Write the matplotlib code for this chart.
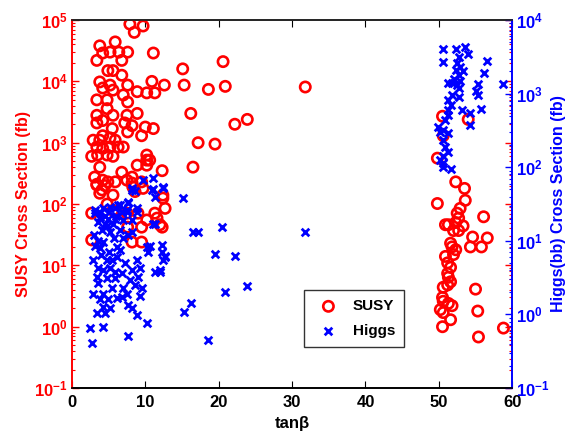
import matplotlib
matplotlib.use("Agg")
import matplotlib.pyplot as plt
from matplotlib.ticker import LogLocator, LogFormatterSciNotation, NullFormatter

# ---------------- data ----------------
susy_tanb = [7.9, 8.5, 9.7, 3.8, 5.9, 7.6, 3.4, 4.2, 5.2, 6.4, 6.8, 4.9, 5.6, 6.8, 11.1,
             3.8, 4.2, 5.2, 5.6, 7.6, 7.0, 8.9, 10.2, 10.9, 11.3, 12.6, 3.4, 4.8, 4.8, 7.6,
             5.6, 3.4, 3.4, 4.2, 7.5, 8.9, 7.2, 8.2, 7.6, 10.0, 11.1, 9.5, 5.5, 4.2, 2.9,
             3.8, 5.2, 5.9, 3.4, 4.2, 5.2, 6.3, 7.0, 2.7, 3.5, 4.8, 5.6, 10.2, 10.2, 10.2,
             3.8, 6.8, 8.9, 8.2, 3.1, 4.2, 4.9, 3.4, 4.1, 5.6, 7.5, 8.3, 12.4, 16.5, 20.6,
             15.1, 15.3, 18.6, 20.9, 31.8, 16.2, 22.2, 23.9, 17.2, 19.5, 12.3, 12.4, 12.7,
             11.3, 11.6, 12.3, 10.6, 3.4, 4.5, 5.9, 8.2, 9.5, 3.8, 8.6, 9.7, 12.0, 2.7, 4.8,
             5.6, 7.5, 9.0, 7.6, 9.5, 2.7, 8.2, 9.5, 10.2,
             49.8, 52.3, 53.5, 53.6, 52.9, 52.5, 52.7, 50.9, 51.3, 52.3, 53.3, 52.7, 52.0,
             56.1, 54.6, 54.3, 55.8, 56.6, 51.6, 51.8, 52.3, 52.0, 50.9, 51.2, 51.6, 51.2,
             51.3, 51.6, 50.6, 51.2, 55.0, 50.5, 51.3, 51.8, 50.2, 50.6, 55.3, 51.6, 50.5,
             58.8, 55.4, 50.6, 50.5, 54.0, 50.6, 49.8]
susy_xsec = [8.6e4, 6.3e4, 8.0e4, 3.8e4, 4.4e4, 3.0e4, 2.2e4, 2.9e4, 3.0e4, 3.0e4, 2.2e4,
             1.5e4, 1.5e4, 1.26e4, 2.9e4, 9.8e3, 7.8e3, 8.7e3, 7.2e3, 8.7e3, 6.0e3, 6.8e3,
             6.5e3, 1.0e4, 6.5e3, 8.7e3, 5.0e3, 5.0e3, 3.6e3, 4.6e3, 2.8e3, 2.8e3, 2.1e3,
             2.3e3, 2.8e3, 3.0e3, 2.1e3, 1.9e3, 1.5e3, 1.8e3, 1.7e3, 1.3e3, 1.7e3, 1.3e3,
             1.1e3, 1.1e3, 1.2e3, 1.1e3, 850, 810, 850, 850, 850, 600, 630, 630, 600, 630,
             520, 430, 400, 330, 430, 275, 275, 245, 230, 205, 170, 140, 245, 190, 140, 400,
             2.1e4, 1.6e4, 8.7e3, 7.4e3, 8.3e3, 8.1e3, 3.0e3, 2.0e3, 2.4e3, 1.0e3, 950, 350,
             125, 85, 71, 59, 42, 520, 210, 200, 230, 220, 230, 150, 160, 180, 46, 71, 100,
             79, 71, 71, 42, 42, 26, 24, 24, 55,
             102, 230, 180, 115, 85, 71, 59, 46, 46, 50, 44, 37, 37, 62, 29, 20, 20, 28, 23,
             20, 18, 15, 14, 11, 9.3, 7.4, 6.4, 5.4, 4.4, 4.8, 4.1, 3.0, 2.4, 2.2, 1.9, 1.7,
             1.8, 1.3, 1.0, 0.95, 0.68, 2.6, 2.7e3, 2.4e3, 1.3e3, 560]

higgs_tanb = [50.5, 52.3, 53.6, 50.6, 54.0, 56.6, 52.7, 52.5, 52.9, 52.3, 53.3, 52.7, 56.1,
              52.0, 52.9, 51.3, 51.8, 52.5, 55.3, 58.8, 52.7, 55.0, 51.8, 55.3, 51.3, 52.7,
              51.6, 51.3, 53.2, 55.8, 54.3, 51.2, 50.9, 54.3, 49.9, 50.6, 51.2, 50.2, 50.6,
              50.9, 51.2, 50.6, 50.5, 50.6, 51.6, 50.2,
              9.7, 11.1, 8.2, 10.9, 12.4, 11.3, 15.1, 12.4, 11.1, 11.1, 16.5, 17.2, 20.5,
              31.8, 10.6, 12.3, 12.7, 12.4, 19.5, 22.2, 11.3, 12.0, 20.9, 23.9, 16.2, 15.3,
              18.6,
              4.2, 5.2, 6.3, 6.8, 7.6, 8.9, 7.5, 3.8, 4.9, 5.9, 8.2, 3.1, 4.8, 5.6, 6.5, 4.1,
              5.2, 7.0, 7.6, 8.2, 4.2, 6.1, 10.2, 10.4, 12.3, 12.7, 2.9, 4.8, 8.9, 3.5, 4.2,
              5.2, 5.9, 6.8, 8.2, 9.3, 12.0, 3.4, 4.8, 5.9, 7.9, 9.0, 3.5, 5.5, 7.0, 8.6,
              9.5, 2.9, 4.2, 7.5, 9.3, 3.8, 4.9, 6.1, 6.8, 7.6, 4.2, 5.2, 3.4, 4.5, 8.2,
              8.9, 10.2, 2.5, 4.2, 7.6, 2.7, 5.5, 6.5, 3.8, 8.2, 8.6, 3.1, 3.8, 4.5, 5.9,
              6.5, 7.6, 8.9, 7.5, 11.3, 3.5, 4.5, 5.0, 6.0, 7.0, 3.0, 3.6, 5.8, 4.0, 5.0,
              6.2, 7.2, 3.2]
higgs_xsec = [4.1e3, 4.1e3, 4.3e3, 2.7e3, 3.5e3, 2.8e3, 3.1e3, 2.6e3, 2.3e3, 2.1e3, 2.0e3,
              1.8e3, 1.9e3, 1.6e3, 1.5e3, 1.4e3, 1.4e3, 1.3e3, 1.35e3, 1.35e3, 1.2e3, 1.1e3,
              960, 960, 820, 890, 700, 600, 600, 620, 550, 510, 440, 370, 350, 320, 290, 300,
              235, 190, 160, 140, 115, 100, 95, 125,
              68, 71, 49, 49, 54, 40, 38, 52, 50, 17, 13, 13, 15.5, 13, 8.4, 8.8, 6.2, 5.5,
              6.6, 6.2, 3.8, 3.8, 2.0, 2.4, 1.45, 1.07, 0.45,
              28, 29, 31, 25, 33, 25, 26, 21, 20, 20, 19, 24, 16, 17, 14, 14, 13, 11, 12, 13,
              9.5, 8.3, 8.3, 7.1, 7.1, 6.1, 5.5, 5.5, 5.5, 4.3, 4.0, 4.3, 3.8, 3.7, 4.0, 4.3,
              4.0, 3.2, 3.1, 3.1, 2.9, 3.2, 2.7, 2.3, 2.3, 2.5, 2.3, 1.9, 1.9, 1.9, 1.8, 1.6,
              1.6, 1.65, 1.75, 1.35, 1.26, 1.23, 1.05, 1.05, 1.23, 0.98, 0.76, 0.66, 0.68,
              0.51, 0.41, 5.5, 7.6, 7.9, 52, 48, 26, 24, 22, 28, 31, 34, 28, 25, 17, 18, 17,
              25, 22, 19, 12, 10, 11, 6.5, 7.0, 6.0, 5.0, 8.5]

x_ticks = [0, 10, 20, 30, 40, 50, 60]

# ---------------- style ----------------
plt.rcParams['font.family'] = ['Liberation Sans', 'DejaVu Sans']
plt.rcParams['font.weight'] = 'bold'
plt.rcParams['mathtext.fontset'] = 'custom'
plt.rcParams['mathtext.rm'] = 'Liberation Sans:bold'
plt.rcParams['mathtext.bf'] = 'Liberation Sans:bold'
plt.rcParams['mathtext.default'] = 'bf'

fig = plt.figure(figsize=(5.66, 4.36), dpi=100)
ax = fig.add_axes([0.127, 0.110, 0.778, 0.844])
ax2 = ax.twinx()

red = '#ff0000'
blue = '#0000ff'

ax.scatter(susy_tanb, susy_xsec, s=55, facecolors='none', edgecolors=red,
           linewidths=1.9, marker='o', label='SUSY', zorder=3)
ax2.scatter(higgs_tanb, higgs_xsec, s=30, color=blue, linewidths=2.0,
            marker='x', label='Higgs', zorder=3)

ax.set_xlim(0, 60)
ax.set_yscale('log')
ax.set_ylim(1e-1, 1e5)
ax2.set_yscale('log')
ax2.set_ylim(1e-1, 1e4)
ax.set_xticks(x_ticks)

for a in (ax, ax2):
    a.yaxis.set_major_locator(LogLocator(base=10, numticks=20))
    a.yaxis.set_minor_locator(LogLocator(base=10, subs=range(2, 10), numticks=20))
    a.yaxis.set_minor_formatter(NullFormatter())
    a.yaxis.set_major_formatter(LogFormatterSciNotation())

ax.tick_params(axis='y', which='both', colors=red, direction='in', right=True,
               labelsize=12, pad=3)
ax.tick_params(axis='y', which='major', length=5, width=1)
ax.tick_params(axis='y', which='minor', length=2.5, width=0.8)
ax.tick_params(axis='x', which='major', direction='in', top=True, length=5,
               labelsize=12, colors='black', pad=5)
ax2.tick_params(axis='y', which='both', colors=blue, direction='in', labelsize=12, pad=3)
ax2.tick_params(axis='y', which='major', length=5, width=1)
ax2.tick_params(axis='y', which='minor', length=2.5, width=0.8)

ax.spines['left'].set_color(red)
ax2.spines['left'].set_color(red)
ax2.spines['right'].set_color(blue)
ax.spines['right'].set_color(blue)
for a in (ax, ax2):
    for s in a.spines.values():
        s.set_linewidth(1.2)
    a.spines['top'].set_color('#222222')
    a.spines['bottom'].set_color('black')

ax.set_xlabel('tanβ', fontsize=12, fontweight='bold', labelpad=4)
ax.set_ylabel('SUSY Cross Section (fb)', color=red, fontsize=11.5, fontweight='bold',
              labelpad=2)
ax2.set_ylabel('Higgs(bb) Cross Section (fb)', color=blue, fontsize=11.5,
               fontweight='bold', labelpad=1)

h1, l1 = ax.get_legend_handles_labels()
h2, l2 = ax2.get_legend_handles_labels()
leg = ax2.legend(h1 + h2, l1 + l2, loc='lower left', bbox_to_anchor=(0.527, 0.111),
                 frameon=True, fancybox=False, edgecolor='black', fontsize=11,
                 borderpad=0.6, handletextpad=0.6, labelspacing=0.7, borderaxespad=0)
leg.get_frame().set_linewidth(1.0)

fig.savefig('out.png', dpi=100)
